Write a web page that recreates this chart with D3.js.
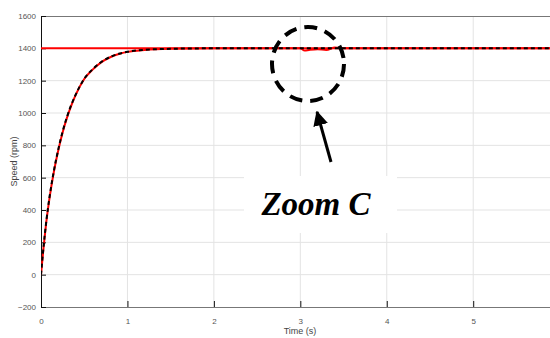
<!DOCTYPE html>
<html>
<head>
<meta charset="utf-8">
<script src="https://cdn.jsdelivr.net/npm/d3@7"></script>
<style>
  body { margin: 0; background: #fff; }
  svg { display: block; }
  .tick text { font-family: "Liberation Sans Narrow", "Liberation Sans", Arial, sans-serif; font-size: 8px; fill: #555; }
</style>
</head>
<body>
<svg width="550" height="338"></svg>
<script>
// speed response
let timeS    = [0, 0.03, 0.06, 0.1, 0.15, 0.2, 0.25, 0.3, 0.35, 0.4, 0.5, 0.6, 0.7, 0.8, 0.9, 1.0, 1.2, 1.5, 2.0, 2.5, 3.0, 3.05, 3.1, 3.2, 3.3, 3.4, 3.5, 4.0, 5.0, 5.9];
let measured = [0, 170, 320, 480, 640, 770, 880, 970, 1045, 1110, 1210, 1270, 1315, 1345, 1365, 1378, 1390, 1397, 1400, 1400, 1400, 1386, 1390, 1395, 1390, 1405, 1400, 1400, 1400, 1400];
let estimated = [0, 175, 325, 485, 645, 775, 885, 975, 1050, 1112, 1212, 1272, 1317, 1347, 1366, 1379, 1391, 1397, 1400, 1400, 1400, 1400, 1400, 1400, 1400, 1400, 1400, 1400, 1400, 1400];
let refSpeed = 1400;
let xTicks = [0, 1, 2, 3, 4, 5];
let yTicks = [-200, 0, 200, 400, 600, 800, 1000, 1200, 1400, 1600];

let margin = {top: 16, left: 41, bottom: 31};
let width = 550, height = 338;

let svg = d3.select("svg");

let x = d3.scaleLinear().domain([0, 5.9]).range([margin.left, 551]);
let y = d3.scaleLinear().domain([-200, 1600]).range([height - margin.bottom, margin.top]);

// grid
svg.append("g").selectAll("line").data(yTicks.slice(1, -1)).join("line")
  .attr("x1", margin.left).attr("x2", width)
  .attr("y1", d => y(d)).attr("y2", d => y(d))
  .attr("stroke", "#e3e3e3").attr("stroke-width", 1);
svg.append("g").selectAll("line").data(xTicks.slice(1)).join("line")
  .attr("x1", d => x(d)).attr("x2", d => x(d))
  .attr("y1", margin.top).attr("y2", y(-200))
  .attr("stroke", "#e3e3e3").attr("stroke-width", 1);

// top border
svg.append("line").attr("x1", margin.left).attr("x2", width)
  .attr("y1", margin.top + 0.5).attr("y2", margin.top + 0.5)
  .attr("stroke", "#777");

// axes
let xAxis = d3.axisBottom(x).tickValues(xTicks).tickFormat(d3.format("d")).tickSizeInner(-6).tickSizeOuter(0).tickPadding(11);
let gx = svg.append("g").attr("transform", `translate(0, ${y(-200)})`).call(xAxis);
gx.select(".domain").attr("stroke", "#777");
gx.selectAll(".tick line").attr("stroke", "#111");

let yAxis = d3.axisLeft(y).tickValues(yTicks).tickFormat(d3.format("d")).tickSizeInner(-5).tickSizeOuter(0).tickPadding(5);
let gy = svg.append("g").attr("transform", `translate(${margin.left}, 0)`).call(yAxis);
gy.select(".domain").attr("stroke", "#111");
gy.selectAll(".tick line").attr("stroke", "#111");

svg.append("text").attr("x", 300).attr("y", 334).attr("text-anchor", "middle")
  .attr("font-family", "'Liberation Sans Narrow', 'Liberation Sans', Arial, sans-serif")
  .attr("font-size", 9).attr("fill", "#444").text("Time (s)");
svg.append("text").attr("transform", `translate(17, ${(margin.top + y(-200)) / 2}) rotate(-90)`)
  .attr("text-anchor", "middle")
  .attr("font-family", "'Liberation Sans Narrow', 'Liberation Sans', Arial, sans-serif")
  .attr("font-size", 9).attr("fill", "#444").text("Speed (rpm)");

// curves
let clip = svg.append("clipPath").attr("id", "plot").append("rect")
  .attr("x", margin.left).attr("y", margin.top).attr("width", width - margin.left).attr("height", y(-200) - margin.top);

let line = d3.line().x(d => x(d[0])).y(d => y(d[1])).curve(d3.curveMonotoneX);
let plot = svg.append("g").attr("clip-path", "url(#plot)");

plot.append("line").attr("x1", x(0)).attr("x2", x(5.9))
  .attr("y1", y(refSpeed)).attr("y2", y(refSpeed))
  .attr("stroke", "#ff0000").attr("stroke-width", 2);
plot.append("path").datum(timeS.map((t, i) => [t, measured[i]]))
  .attr("d", line).attr("fill", "none").attr("stroke", "#ff0000").attr("stroke-width", 2);
plot.append("path").datum(timeS.map((t, i) => [t, estimated[i]]))
  .attr("d", line).attr("fill", "none").attr("stroke", "#000").attr("stroke-width", 2)
  .attr("stroke-dasharray", "4,3");

// annotation
svg.append("rect").attr("x", 244).attr("y", 176).attr("width", 153).attr("height", 57).attr("fill", "#fff");
svg.append("text").attr("x", 316).attr("y", 215).attr("text-anchor", "middle")
  .attr("font-family", "'Liberation Serif', 'Times New Roman', serif")
  .attr("font-size", 33).attr("font-weight", "bold").attr("font-style", "italic")
  .text("Zoom C");

svg.append("ellipse").attr("cx", 308).attr("cy", 64).attr("rx", 36).attr("ry", 37)
  .attr("fill", "none").attr("stroke", "#000").attr("stroke-width", 4).attr("stroke-dasharray", "13,8");

svg.append("defs").append("marker").attr("id", "arr").attr("viewBox", "0 0 10 10")
  .attr("refX", 9).attr("refY", 5).attr("markerWidth", 5).attr("markerHeight", 5)
  .attr("markerUnits", "strokeWidth").attr("orient", "auto")
  .append("path").attr("d", "M0,0 L10,5 L0,10 z").attr("fill", "#000");
svg.append("line").attr("x1", 331).attr("y1", 162).attr("x2", 317).attr("y2", 112)
  .attr("stroke", "#000").attr("stroke-width", 3).attr("marker-end", "url(#arr)");
</script>
</body>
</html>
